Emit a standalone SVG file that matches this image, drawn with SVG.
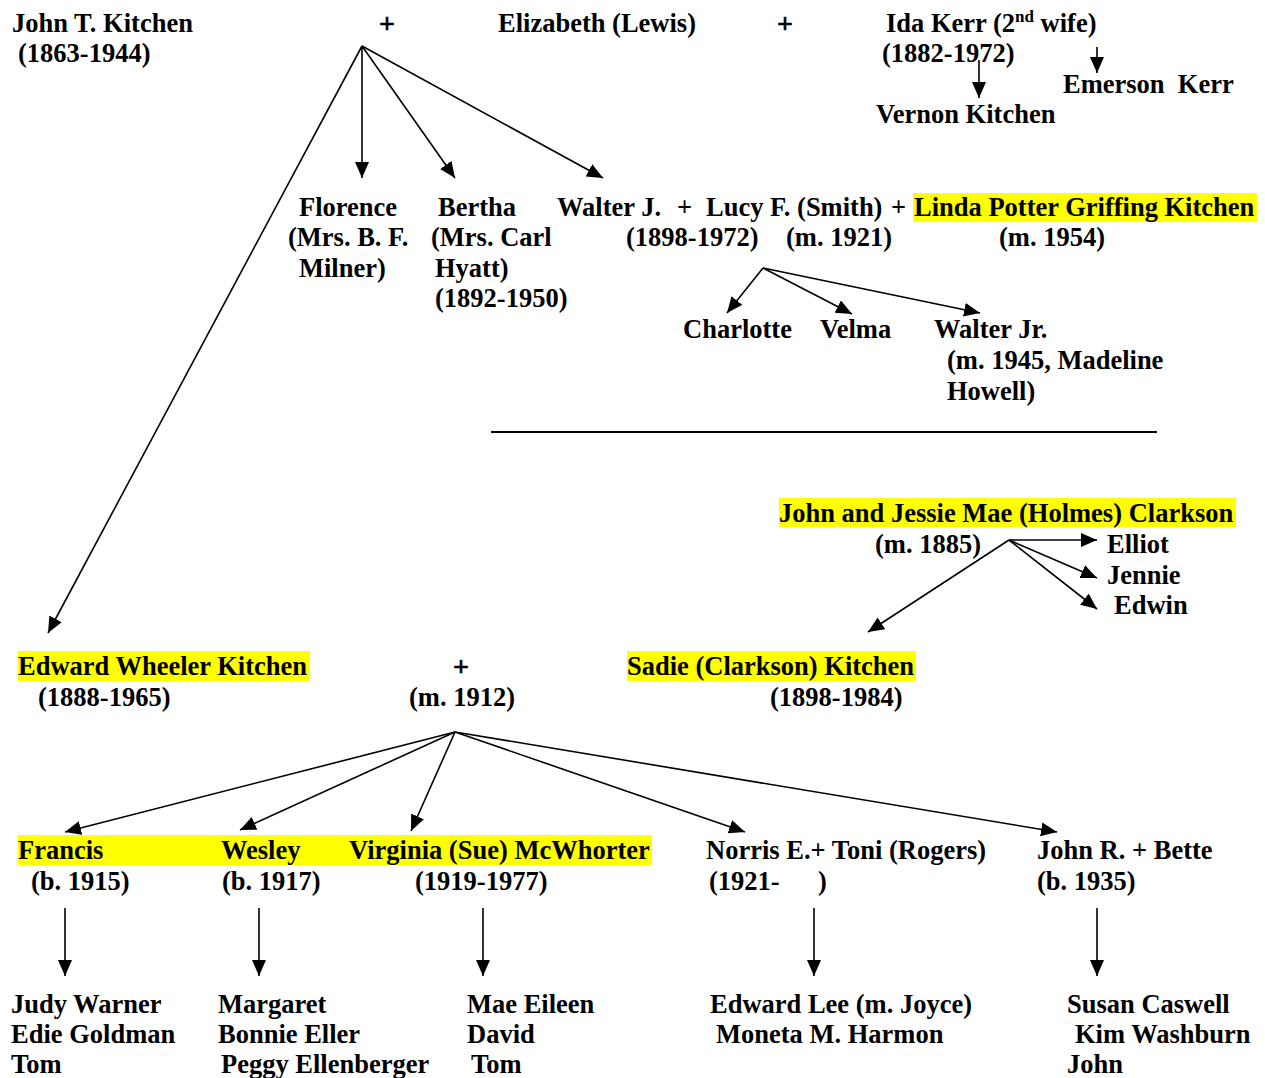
<svg xmlns="http://www.w3.org/2000/svg" width="1265" height="1078" viewBox="0 0 1265 1078">
<style>
text{font-family:"Liberation Serif","Times New Roman",serif;font-weight:bold;font-size:26.5px;fill:#000}
.hl{fill:#ffff00}
.c line{stroke:#000;stroke-width:1.6;marker-end:url(#ah)}
.plus{font-size:28px;stroke:#000;stroke-width:0.6}
</style>
<defs>
<marker id="ah" markerUnits="userSpaceOnUse" markerWidth="17" markerHeight="15" refX="16" refY="7" orient="auto">
<path d="M0,0 L16,7 L0,14 z" fill="#000"/>
</marker>
</defs>
<rect width="1265" height="1078" fill="#fff"/>
<g id="highlights">
<rect class="hl" x="913" y="193" width="344" height="29"/>
<rect class="hl" x="779" y="498" width="457" height="29"/>
<rect class="hl" x="18" y="651" width="292" height="30"/>
<rect class="hl" x="627" y="651" width="289" height="30"/>
<rect class="hl" x="18" y="835" width="634" height="30"/>
</g>
<g id="john-t-kitchen"><text x="12" y="32">John T. Kitchen</text><text x="18" y="62">(1863-1944)</text></g>
<g id="plus1"><text class="plus" x="379" y="33">+</text></g>
<g id="elizabeth"><text x="498" y="32">Elizabeth (Lewis)</text></g>
<g id="plus2"><text class="plus" x="777" y="33">+</text></g>
<g id="ida-kerr"><text x="886" y="32">Ida Kerr (2<tspan dy="-10" font-size="17">nd</tspan><tspan dy="10"> wife)</tspan></text><text x="882" y="62">(1882-1972)</text></g>
<g id="emerson-kerr"><text x="1063" y="93" xml:space="preserve">Emerson  Kerr</text></g>
<g id="vernon-kitchen"><text x="876" y="123">Vernon Kitchen</text></g>
<g id="florence"><text x="299" y="216">Florence</text><text x="288" y="246">(Mrs. B. F.</text><text x="299" y="277">Milner)</text></g>
<g id="bertha"><text x="438" y="216">Bertha</text><text x="431" y="246">(Mrs. Carl</text><text x="435" y="277">Hyatt)</text><text x="435" y="307">(1892-1950)</text></g>
<g id="walter-j"><text x="557" y="216">Walter J.</text><text x="626" y="246">(1898-1972)</text></g>
<g id="plus3"><text x="677" y="216">+</text></g>
<g id="lucy"><text x="706" y="216">Lucy F. (Smith)</text><text x="786" y="246">(m. 1921)</text></g>
<g id="plus4"><text x="891" y="216">+</text></g>
<g id="linda"><text x="914" y="216">Linda Potter Griffing Kitchen</text><text x="999" y="246">(m. 1954)</text></g>
<g id="charlotte"><text x="683" y="338">Charlotte</text></g>
<g id="velma"><text x="820" y="338">Velma</text></g>
<g id="walter-jr"><text x="934" y="338">Walter Jr.</text><text x="947" y="369">(m. 1945, Madeline</text><text x="947" y="400">Howell)</text></g>
<g id="separator"><line x1="491" y1="432" x2="1157" y2="432" stroke="#000" stroke-width="2"/></g>
<g id="clarkson"><text x="779" y="522">John and Jessie Mae (Holmes) Clarkson</text><text x="875" y="553">(m. 1885)</text></g>
<g id="elliot"><text x="1107" y="553">Elliot</text></g>
<g id="jennie"><text x="1107" y="584">Jennie</text></g>
<g id="edwin"><text x="1114" y="614">Edwin</text></g>
<g id="edward-wheeler"><text x="18" y="675">Edward Wheeler Kitchen</text><text x="38" y="706">(1888-1965)</text></g>
<g id="plus5"><text class="plus" x="453" y="676">+</text><text x="409" y="706">(m. 1912)</text></g>
<g id="sadie"><text x="627" y="675">Sadie (Clarkson) Kitchen</text><text x="770" y="706">(1898-1984)</text></g>
<g id="francis"><text x="18" y="859">Francis</text><text x="31" y="890">(b. 1915)</text></g>
<g id="wesley"><text x="221" y="859">Wesley</text><text x="222" y="890">(b. 1917)</text></g>
<g id="virginia"><text x="349" y="859">Virginia (Sue) McWhorter</text><text x="415" y="890">(1919-1977)</text></g>
<g id="norris"><text x="706" y="859">Norris E.+ Toni (Rogers)</text><text x="709" y="890">(1921-</text><text x="818" y="890">)</text></g>
<g id="john-r"><text x="1037" y="859">John R. + Bette</text><text x="1037" y="890">(b. 1935)</text></g>
<g id="francis-children"><text x="11" y="1013">Judy Warner</text><text x="11" y="1043">Edie Goldman</text><text x="11" y="1073">Tom</text></g>
<g id="wesley-children"><text x="218" y="1013">Margaret</text><text x="218" y="1043">Bonnie Eller</text><text x="221" y="1073">Peggy Ellenberger</text></g>
<g id="virginia-children"><text x="467" y="1013">Mae Eileen</text><text x="467" y="1043">David</text><text x="471" y="1073">Tom</text></g>
<g id="norris-children"><text x="710" y="1013">Edward Lee (m. Joyce)</text><text x="716" y="1043">Moneta M. Harmon</text></g>
<g id="john-r-children"><text x="1067" y="1013">Susan Caswell</text><text x="1075" y="1043">Kim Washburn</text><text x="1067" y="1073">John</text></g>
<g id="connectors" class="c">
<line x1="362" y1="46" x2="362" y2="178"/>
<line x1="362" y1="46" x2="455" y2="178"/>
<line x1="362" y1="46" x2="603" y2="178"/>
<line x1="362" y1="46" x2="48" y2="633"/>
<line x1="979" y1="60" x2="979" y2="98"/>
<line x1="1097" y1="47" x2="1097" y2="73"/>
<line x1="763" y1="268" x2="727" y2="313"/>
<line x1="763" y1="268" x2="852" y2="314"/>
<line x1="763" y1="268" x2="980" y2="313"/>
<line x1="1009" y1="540" x2="1097" y2="540"/>
<line x1="1009" y1="540" x2="1097" y2="578"/>
<line x1="1009" y1="540" x2="1097" y2="609"/>
<line x1="1009" y1="540" x2="868" y2="632"/>
<line x1="455" y1="732" x2="65" y2="832"/>
<line x1="455" y1="732" x2="240" y2="830"/>
<line x1="455" y1="732" x2="411" y2="831"/>
<line x1="455" y1="732" x2="745" y2="832"/>
<line x1="455" y1="732" x2="1057" y2="832"/>
<line x1="65" y1="908" x2="65" y2="976"/>
<line x1="259" y1="908" x2="259" y2="976"/>
<line x1="483" y1="908" x2="483" y2="976"/>
<line x1="814" y1="908" x2="814" y2="976"/>
<line x1="1097" y1="908" x2="1097" y2="976"/>
</g>
</svg>
